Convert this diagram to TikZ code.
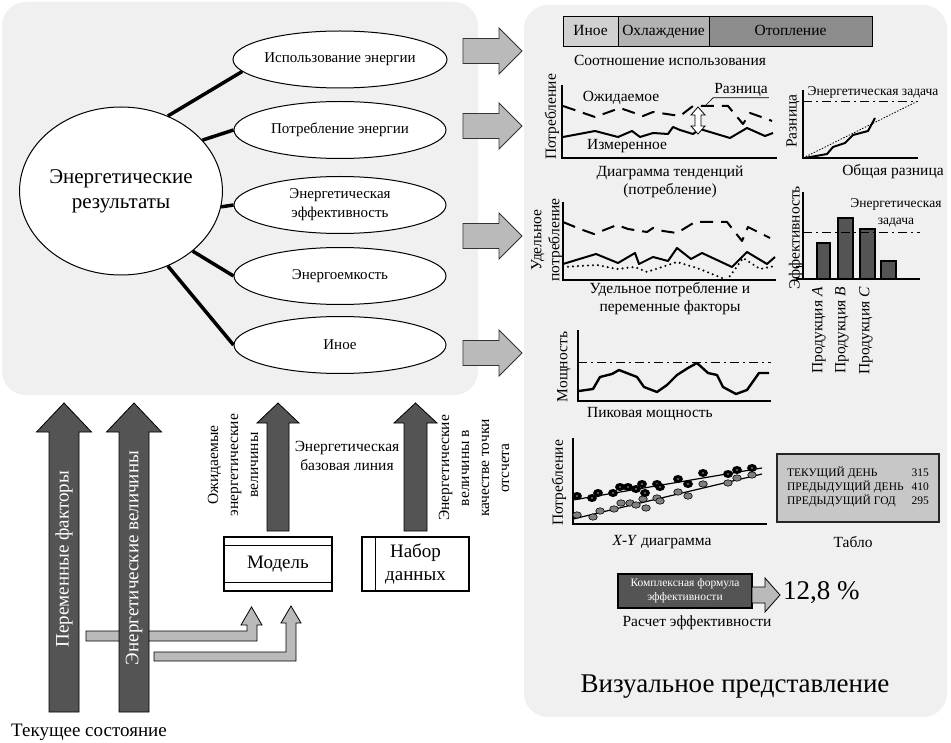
\documentclass[tikz,border=0pt]{standalone}
\usepackage{fontspec}
\setmainfont{Liberation Serif}
\usetikzlibrary{shapes.geometric}
\tikzset{
  panel/.style={fill=black!6, rounded corners=24pt},
  hub/.style={ellipse, draw, line width=1pt, fill=white, minimum width=198pt,
    minimum height=168pt, inner sep=0pt, align=center, font=\fontsize{21}{25}\selectfont},
  result/.style={ellipse, draw, line width=1pt, fill=white, minimum width=212pt,
    minimum height=57pt, inner sep=0pt, align=center, font=\fontsize{15}{19}\selectfont},
  spoke/.style={line width=3.5pt},
  chartcap/.style={font=\fontsize{15.5}{18}\selectfont, align=center, inner sep=0pt},
  axislbl/.style={chartcap, rotate=90},
  axisline/.style={line width=1.3pt},
  series/.style={line width=2pt, line join=round},
  dashseries/.style={series, dash pattern=on 13pt off 8pt},
  dotseries/.style={line width=2.3pt, dash pattern=on 0pt off 5pt, line cap=round},
  target/.style={line width=0.8pt, dash pattern=on 9pt off 4pt on 2pt off 4pt},
  seg/.style={draw, line width=1pt, minimum height=30pt, inner sep=0pt,
    text height=10.5pt, text depth=3.5pt, font=\fontsize{15.5}{18}\selectfont},
  bar/.style={draw, fill=black!67, line width=1.5pt},
  sidearrow/.style={draw=black!80, fill=black!27, line width=0.8pt},
  flowarrow/.style={draw=black, fill=black!67, line width=0.8pt},
  feedarrow/.style={draw=black, fill=black!27, line width=0.8pt},
  store/.style={draw, fill=white, line width=1.2pt, minimum width=108pt,
    minimum height=54pt, inner sep=0pt, align=center, font=\fontsize{19}{23}\selectfont},
  board/.style={draw=black!85, fill=black!22, line width=2pt, minimum width=162pt,
    minimum height=68pt, inner sep=0pt, font=\fontsize{11.5}{14}\selectfont},
  calcbox/.style={draw, fill=black!67, line width=1.2pt, minimum width=134pt,
    minimum height=34pt, inner sep=0pt, align=center, text=white,
    font=\fontsize{11.5}{14}\selectfont},
  arrowtxt/.style={rotate=90, text=white, inner sep=0pt, font=\fontsize{19}{22}\selectfont},
  sidetxt/.style={rotate=90, align=center, inner sep=0pt, font=\fontsize{15.5}{20}\selectfont},
  plaintxt/.style={align=center, inner sep=0pt, font=\fontsize{15.5}{19}\selectfont},
  bigtxt/.style={inner sep=0pt, font=\fontsize{27}{30}\selectfont},
}
\newcommand{\showarrow}[1]{%
  \draw[sidearrow] (463,#1-12.5) -- (499,#1-12.5) -- (499,#1-23) -- (522,#1)
    -- (499,#1+23) -- (499,#1+12.5) -- (463,#1+12.5) -- cycle;}
\newcommand{\riseblock}[6]{%
  \draw[flowarrow] (#1-#2,#4) -- (#1-#2,#5) -- (#1-#3,#5) -- (#1,#6)
    -- (#1+#3,#5) -- (#1+#2,#5) -- (#1+#2,#4) -- cycle;}

\begin{document}
\begin{tikzpicture}[x=1pt, y=-1pt]
\useasboundingbox (0,0) rectangle (951,743);
\fill[white] (0,0) rectangle (951,743);
\fill[panel] (2,2) rectangle (478,395);
\fill[panel] (524,5) rectangle (947,717);

\foreach \yy in {51,126,236,353} {\showarrow{\yy}}

\node[hub] (energy) at (121,191) {Энергетические\\результаты};
\node[result] (usage) at (340,59.5) {Использование энергии};
\node[result] (consumption) at (340,130) {Потребление энергии};
\node[result] (efficiency) at (340,205) {Энергетическая\\эффективность};
\node[result] (intensity) at (340,276) {Энергоемкость};
\node[result] (otherres) at (340,345) {Иное};

\draw[spoke] (energy.58) -- (usage.187);
\draw[spoke] (energy.32) -- (consumption.west);
\draw[spoke] (energy.351) -- (efficiency.west);
\draw[spoke] (energy.320) -- (intensity.west);
\draw[spoke] (energy.302) -- (otherres.west);

% usage share
\node[seg, fill=black!18, minimum width=55pt] (shareother) at (590.5,32) {Иное};
\node[seg, fill=black!30, minimum width=91pt] (sharecool) at (663.5,32) {Охлаждение};
\node[seg, fill=black!45, minimum width=163pt] (shareheat) at (790.5,32) {Отопление};
\node[chartcap] (sharecap) at (670,60) {Соотношение использования};

% trend chart
\draw[axisline] (562,85) -- (562,158) -- (777,158);
\draw[dashseries] plot coordinates {(563,106) (595,117) (620,108) (643,116) (653,112)
  (680,116) (693,106) (713,106) (728,106) (743,124) (750,113) (767,119) (772,121)};
\draw[series] plot coordinates {(563,137) (595,131) (618,137) (632,131) (640,137)
  (653,133) (668,134) (673,127) (680,130) (693,134) (700,129) (730,138) (747,128)
  (765,136) (773,133)};
\draw[fill=white, line width=0.8pt] (698,107) -- (705,115) -- (701,115) -- (701,126)
  -- (705,126) -- (698,134) -- (691,126) -- (695,126) -- (695,115) -- (691,115) -- cycle;
\coordinate (gapend) at (706,105);
\node[chartcap, inner sep=1pt] (difflbl) at (741,90) {Разница};
\draw[line width=0.6pt] (gapend) -- (difflbl.south west) -- (difflbl.south east);
\node[chartcap] (expectlbl) at (621,98) {Ожидаемое};
\node[chartcap] (measlbl) at (627,146) {Измеренное};
\node[axislbl] (trendy) at (552,117) {Потребление};
\node[chartcap] (trendcap) at (670,182) {Диаграмма тенденций\\(потребление)};

% cumulative difference
\draw[axisline] (803,90) -- (803,158) -- (918,158);
\draw[target] (803,101) -- (918,101);
\draw[line width=0.8pt, dash pattern=on 1.5pt off 1.5pt] (803,158) -- (918,101);
\draw[series] plot coordinates {(805,158) (827,154) (833,147) (845,143) (853,135)
  (868,131) (875,118)};
\node[chartcap, font=\fontsize{13.5}{16}\selectfont] (cumtarget) at (873,92) {Энергетическая задача};
\node[axislbl] (cumy) at (793,121) {Разница};
\node[chartcap] (cumcap) at (893,172) {Общая разница};

% specific consumption
\draw[axisline] (563,202) -- (563,280) -- (776,280);
\draw[dashseries] plot coordinates {(563,222) (580,229) (594,234) (617,225) (628,229)
  (647,232) (653,228) (663,231) (677,233) (695,222) (727,222) (742,241) (748,227)
  (758,232) (770,238)};
\draw[series] plot coordinates {(563,264) (596,254) (618,263) (635,253) (639,264)
  (653,257) (668,261) (677,248) (691,259) (702,253) (732,267) (747,252) (767,264)
  (775,257)};
\draw[dotseries] plot coordinates {(563,267) (597,265) (617,269) (635,267) (647,272)
  (677,262) (697,268) (727,280) (733,272) (743,258) (760,269) (775,266)};
\node[axislbl] (specy) at (547,240) {Удельное\\потребление};
\node[chartcap] (speccap) at (670,299) {Удельное потребление и\\переменные факторы};

% efficiency bars
\foreach \l/\r/\t in {817/830/243, 838/853/218, 860/875/229, 881/896/261}
  \draw[bar] (\l,279) rectangle (\r,\t);
\draw[axisline] (803,192) -- (803,279) -- (920,279);
\draw[axisline] (796,279) -- (803,279);
\draw[line width=0.8pt] (796,266) -- (803,266);
\draw[target] (803,232) -- (920,232);
\node[chartcap, font=\fontsize{13.5}{17}\selectfont] (efftarget) at (896,213) {Энергетическая\\задача};
\node[axislbl] (effy) at (796,238) {Эффективность};
\node[axislbl, anchor=east] (proda) at (819,287) {Продукция \textit{A}};
\node[axislbl, anchor=east] (prodb) at (842,287) {Продукция \textit{B}};
\node[axislbl, anchor=east] (prodc) at (866,287) {Продукция \textit{C}};

% peak power
\draw[axisline] (578,330) -- (578,401) -- (771,401);
\draw[target] (578,362) -- (771,362);
\draw[series, line width=2.4pt] plot coordinates {(579,391) (593,389) (600,377) (612,374)
  (619,370) (637,377) (644,387) (657,392) (667,385) (677,375) (688,368) (697,363)
  (708,373) (717,375) (723,387) (736,394) (747,390) (759,373) (769,373)};
\node[axislbl] (peaky) at (564,367) {Мощность};
\node[chartcap] (peakcap) at (650,414) {Пиковая мощность};

% x-y chart
\draw[axisline] (573,438) -- (573,524) -- (767,524);
\draw[line width=1.2pt] (573,500) -- (762,468);
\draw[line width=1.2pt] (573,519) -- (762,474);
\foreach \x/\y in {577/515, 593/517, 600/511, 614/509, 621/503, 630/503, 636/505,
  643/499, 646/508, 657/498, 660/501, 678/492, 688/496, 703/484, 728/483, 737/478, 752/475}
  \filldraw[fill=black!50, draw=black, line width=0.6pt] (\x,\y) ellipse (4.3pt and 3.2pt);
\foreach \x/\y in {577/496, 592/498, 598/493, 613/493, 620/487, 628/487, 636/489,
  642/484, 645/493, 657/484, 660/487, 678/479, 688/484, 703/473, 728/474, 737/470, 752/468}
  {\fill[black] (\x,\y) ellipse (5pt and 4pt);
   \fill[black!50] (\x,\y) ellipse (1.3pt and 0.9pt);}
\node[axislbl] (xyy) at (559,483) {Потребление};
\node[chartcap] (xycap) at (662,542) {\textit{X-Y} диаграмма};

% board
\node[board] (tablo) at (858,488) {\begin{tabular}{@{}l@{\hspace{8pt}}r@{}}
  ТЕКУЩИЙ ДЕНЬ & 315\\ ПРЕДЫДУЩИЙ ДЕНЬ & 410\\ ПРЕДЫДУЩИЙ ГОД & 295\end{tabular}};
\node[chartcap] (tablocap) at (853,542) {Табло};

% efficiency calculation
\node[calcbox] (calc) at (685,591) {Комплексная формула\\эффективности};
\draw[feedarrow] (752,587) -- (765,587) -- (765,578) -- (780,595) -- (765,612)
  -- (765,603) -- (752,603) -- cycle;
\node[bigtxt, anchor=west] (ratio) at (783,593) {12,8 \%};
\node[chartcap] (calccap) at (697,623) {Расчет эффективности};
\node[bigtxt] (viewtitle) at (735,687) {Визуальное представление};

% inputs
\draw[feedarrow] (86,631) -- (247,631) -- (247,625) -- (241,625) -- (251.5,607)
  -- (262,625) -- (257,625) -- (257,641) -- (86,641) -- cycle;
\draw[feedarrow] (154,652) -- (286,652) -- (286,623) -- (281,623) -- (291,606)
  -- (301,623) -- (296,623) -- (296,661) -- (154,661) -- cycle;
\riseblock{64}{15}{27.5}{712}{432}{403}
\riseblock{134}{15}{27.5}{712}{432}{403}
\riseblock{278}{11}{21}{531}{423}{403}
\riseblock{415.5}{11.5}{21.5}{531}{423}{403}
\node[arrowtxt] (varfactors) at (64,559) {Переменные факторы};
\node[arrowtxt] (energyvals) at (134,558) {Энергетические величины};

\node[store] (model) at (278,564) {Модель};
\draw[line width=1.2pt] ([yshift=-9pt]model.north west) -- ([yshift=-9pt]model.north east);
\draw[line width=1.2pt] ([yshift=9pt]model.south west) -- ([yshift=9pt]model.south east);
\node[store, minimum width=107pt] (dataset) at (415.5,564) {Набор\\данных};
\draw[line width=1.2pt] ([xshift=14pt]dataset.north west) -- ([xshift=14pt]dataset.south west);

\node[sidetxt] (expected) at (233,465) {Ожидаемые\\энергетические\\величины};
\node[plaintxt] (baseline) at (347,456) {Энергетическая\\базовая линия};
\node[sidetxt] (refvals) at (474,468) {Энергетические\\величины в\\качестве точки\\отсчета};
\node[plaintxt, font=\fontsize{19}{22}\selectfont] (current) at (89,732) {Текущее состояние};
\end{tikzpicture}
\end{document}
